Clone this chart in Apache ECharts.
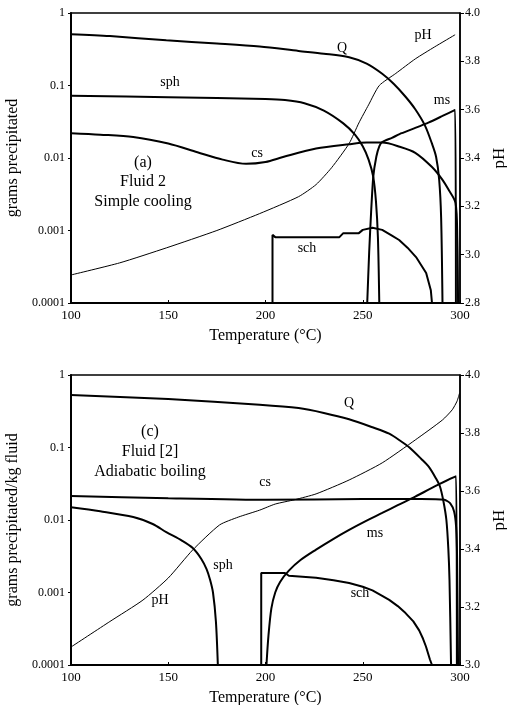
<!DOCTYPE html>
<html>
<head>
<meta charset="utf-8">
<script src="https://cdn.jsdelivr.net/npm/echarts@6/dist/echarts.min.js"></script>
<style>
  html, body { margin: 0; padding: 0; background: #fff; }
</style>
</head>
<body>
<div id="chart" style="width: 507px;height:705px;"></div>
<script>
// axis ticks
var tempTicks = [100, 150, 200, 250, 300];
var logTicks = ['0.0001', '0.001', '0.01', '0.1', '1'];

// (a) Fluid 2, simple cooling  -- [temperature, grams]
var qA = [[100,0.51],[120,0.48],[149,0.42],[175,0.38],[197,0.345],[217,0.30],[230,0.275],[243,0.245],[252,0.2],[260,0.145],[266,0.105],[272,0.07],[277,0.047],[282,0.028],[285.5,0.016],[287.7,0.0104],[289.3,0.005],[290.3,0.0015],[291,0.0001]];
var sphA = [[100,0.072],[150,0.069],[200,0.065],[210,0.063],[220,0.057],[230,0.045],[240,0.03],[246,0.021],[250,0.0145],[253,0.0095],[255.4,0.0055],[256.8,0.0025],[257.8,0.0008],[258.5,0.0001]];
var csA = [[100,0.022],[115,0.021],[132,0.0195],[150,0.0158],[165,0.012],[178,0.0095],[190,0.0083],[200,0.0088],[209,0.0103],[226,0.0135],[243,0.0155],[252,0.0163],[260,0.0163],[269,0.0143],[277,0.0118],[285.6,0.0075],[291,0.005],[294,0.0037],[297.7,0.0024],[298.6,0.0008],[299,0.0001]];
var msA = [[252.3,0.0001],[253.3,0.0005],[254.3,0.0018],[255.4,0.0055],[257,0.0105],[258.5,0.0145],[260,0.0166],[265,0.019],[270,0.022],[277,0.026],[284,0.031],[291,0.038],[297.5,0.046],[297.9,0.0001]];
var schA = [[203.6,0.0001],[203.6,0.00087],[205,0.00081],[238,0.00081],[240,0.00092],[248,0.00092],[250,0.00102],[255,0.00109],[260,0.00102],[265,0.00085],[268.7,0.00074],[273,0.00058],[277.4,0.00043],[282.6,0.00026],[285,0.00015],[285.6,0.0001]];
var phA = [[100,2.916],[125,2.966],[149,3.028],[175,3.10],[197,3.17],[217,3.24],[226,3.29],[234,3.36],[243,3.46],[248,3.545],[253,3.62],[258.5,3.70],[267,3.75],[277,3.81],[287,3.86],[297.5,3.91]];

// (c) Fluid [2], adiabatic boiling
var qC = [[100,0.53],[150,0.465],[197,0.39],[217,0.35],[230,0.30],[243,0.245],[255,0.19],[263.6,0.155],[270,0.12],[274,0.10],[280,0.07],[284,0.054],[287.5,0.038],[289.7,0.029],[291.5,0.018],[293,0.01],[294,0.004],[294.6,0.0015],[295.4,0.0001]];
var sphC = [[100,0.015],[115,0.0132],[132,0.011],[142,0.0088],[149,0.0068],[157,0.0052],[162.6,0.0041],[167,0.0029],[169.7,0.0021],[171.5,0.0015],[173,0.001],[174.5,0.0004],[175.5,0.0001]];
var csC = [[100,0.0214],[150,0.020],[200,0.019],[250,0.0195],[280,0.0195],[292,0.019],[295,0.017],[297,0.013],[298,0.008],[298.5,0.003],[299,0.0001]];
var msC = [[200.5,0.0001],[201.5,0.00025],[203,0.0006],[205,0.001],[207.5,0.0014],[212,0.002],[218,0.0028],[226,0.0039],[235,0.0055],[243,0.0073],[251,0.0095],[260,0.0125],[268,0.016],[277,0.021],[287,0.029],[298,0.040],[298.4,0.0001]];
var schC = [[197.8,0.0001],[197.8,0.00186],[210,0.00186],[212,0.0017],[226,0.0016],[235,0.00148],[243,0.00135],[250,0.0012],[255,0.00107],[260,0.0009],[263.6,0.00079],[268,0.00065],[272,0.00052],[276,0.0004],[279,0.0003],[281,0.00023],[282.5,0.00018],[284.5,0.00012],[285.6,0.0001]];
var phC = [[100,3.062],[120,3.15],[137,3.224],[150,3.3],[162.6,3.397],[176.4,3.483],[186,3.51],[197,3.534],[205,3.555],[215,3.57],[226,3.59],[243,3.638],[260,3.697],[277,3.776],[291,3.845],[296,3.88],[298.5,3.91],[299.8,3.938]];

var serif = '"Liberation Serif", "DejaVu Serif", serif';

function xAxisCfg(idx) {
  return {
    gridIndex: idx, type: 'value', min: 100, max: 300, interval: 50,
    name: 'Temperature (\u00b0C)', nameLocation: 'middle', nameGap: 25,
    nameTextStyle: { fontFamily: serif, fontSize: 16, color: '#000' },
    axisLine: { lineStyle: { color: '#000', width: 2 } },
    axisTick: { inside: true, length: 3, lineStyle: { color: '#000' } },
    axisLabel: { fontFamily: serif, fontSize: 13, color: '#000', margin: 6 },
    splitLine: { show: false }
  };
}
function logAxisCfg(idx, name) {
  return {
    gridIndex: idx, type: 'log', logBase: 10, min: 0.0001, max: 1,
    name: name, nameLocation: 'middle', nameGap: 50,
    nameTextStyle: { fontFamily: serif, fontSize: 16, color: '#000' },
    axisLine: { show: true, lineStyle: { color: '#000', width: 2 } },
    axisTick: { show: true, length: 3, lineStyle: { color: '#000' } },
    axisLabel: { fontFamily: serif, fontSize: 12, color: '#000', margin: 6,
      formatter: function (v) { return logTicks[Math.round(Math.log10(v)) + 4]; } },
    splitLine: { show: false }, minorTick: { show: false }
  };
}
function phAxisCfg(idx, min) {
  return {
    gridIndex: idx, type: 'value', position: 'right', min: min, max: 4.0, interval: 0.2,
    name: 'pH', nameLocation: 'middle', nameGap: 35, nameRotate: 90,
    nameTextStyle: { fontFamily: serif, fontSize: 17, color: '#000', align: 'center', verticalAlign: 'middle' },
    axisLine: { show: true, lineStyle: { color: '#000', width: 1.5 } },
    axisTick: { show: true, length: 4, lineStyle: { color: '#000' } },
    axisLabel: { fontFamily: serif, fontSize: 12, color: '#000', margin: 5,
      formatter: function (v) { return v.toFixed(1); } },
    splitLine: { show: false }
  };
}
function line(data, xi, yi, w, sm) {
  return {
    type: 'line', data: data, xAxisIndex: xi, yAxisIndex: yi,
    showSymbol: false, symbol: 'none', smooth: sm || false, clip: true,
    lineStyle: { color: '#000', width: w }
  };
}
function label(text, x, y, size) {
  return { type: 'text', x: x, y: y, style: { text: text, fontFamily: serif, fontSize: size || 14,
    fill: '#000', textAlign: 'center', textVerticalAlign: 'middle' } };
}

var myChart = echarts.init(document.getElementById('chart'));
var option = {
  animation: false,
  grid: [
    { left: 71, top: 13, width: 389, height: 290, show: true, borderColor: '#000', borderWidth: 1.5, outerBoundsMode: 'none', containLabel: false },
    { left: 71, top: 375, width: 389, height: 290, show: true, borderColor: '#000', borderWidth: 1.5, outerBoundsMode: 'none', containLabel: false }
  ],
  xAxis: [xAxisCfg(0), xAxisCfg(1)],
  yAxis: [
    logAxisCfg(0, 'grams precipitated'),
    phAxisCfg(0, 2.8),
    logAxisCfg(1, 'grams precipitated/kg fluid'),
    phAxisCfg(1, 3.0)
  ],
  series: [
    line(qA, 0, 0, 2, 0.3), line(sphA, 0, 0, 2, 0.3), line(csA, 0, 0, 2, 0.3),
    line(msA, 0, 0, 2, 0.2), line(schA, 0, 0, 2), line(phA, 0, 1, 1, 0.2),
    line(qC, 1, 2, 2, 0.3), line(sphC, 1, 2, 2, 0.3), line(csC, 1, 2, 2, 0.2),
    line(msC, 1, 2, 2, 0.3), line(schC, 1, 2, 2), line(phC, 1, 3, 1, 0.2)
  ],
  graphic: [
    label('(a)', 143, 163, 16), label('Fluid 2', 143, 182, 16), label('Simple cooling', 143, 202, 16),
    label('Q', 342, 48), label('pH', 423, 35), label('sph', 170, 82), label('cs', 257, 153),
    label('ms', 442, 100), label('sch', 307, 248),
    label('(c)', 150, 432, 16), label('Fluid [2]', 150, 452, 16), label('Adiabatic boiling', 150, 472, 16),
    label('Q', 349, 403), label('cs', 265, 482), label('ms', 375, 533), label('sch', 360, 593),
    label('sph', 223, 565), label('pH', 160, 600)
  ]
};
myChart.setOption(option);
</script>
</body>
</html>
